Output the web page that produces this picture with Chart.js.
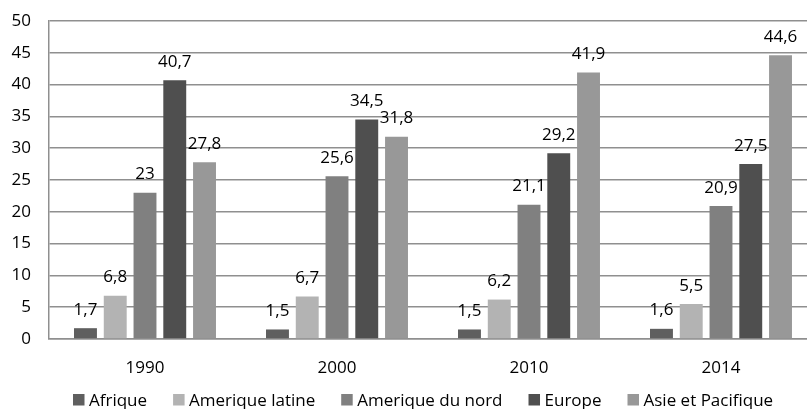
<!DOCTYPE html>
<html>
<head>
<meta charset="utf-8">
<script src="https://cdn.jsdelivr.net/npm/chart.js@4"></script>
<style>
  html, body { margin: 0; padding: 0; background: #fff; overflow: hidden; }
  #wrap { position: relative; width: 817px; height: 409px; }
</style>
</head>
<body>
<div id="wrap"><canvas id="c" width="817" height="409"></canvas></div>
<script>
const categories = ['1990', '2000', '2010', '2014'];
const seriesNames = ['Afrique', 'Amerique latine', 'Amerique du nord', 'Europe', 'Asie et Pacifique'];
const afrique = [1.7, 1.5, 1.5, 1.6];
const ameriqueLatine = [6.8, 6.7, 6.2, 5.5];
const ameriqueNord = [23, 25.6, 21.1, 20.9];
const europe = [40.7, 34.5, 29.2, 27.5];
const asiePacifique = [27.8, 31.8, 41.9, 44.6];
const yTicks = [0, 5, 10, 15, 20, 25, 30, 35, 40, 45, 50];

const seriesValues = [afrique, ameriqueLatine, ameriqueNord, europe, asiePacifique];
const seriesColors = ['#5f5f5f', '#b3b3b3', '#808080', '#4f4f4f', '#989898'];
const FONT = '"Open Sans", sans-serif';

const valueLabels = {
  id: 'valueLabels',
  afterDatasetsDraw(chart) {
    const ctx = chart.ctx;
    ctx.save();
    ctx.font = '17px ' + FONT;
    ctx.fillStyle = '#000';
    ctx.textAlign = 'center';
    ctx.textBaseline = 'alphabetic';
    chart.data.datasets.forEach((ds, i) => {
      const meta = chart.getDatasetMeta(i);
      meta.data.forEach((bar, j) => {
        ctx.fillText(String(ds.data[j]).replace('.', ','), bar.x, bar.y - 13.5);
      });
    });
    ctx.restore();
  }
};

const bottomLegend = {
  id: 'bottomLegend',
  afterDraw(chart) {
    const ctx = chart.ctx;
    ctx.save();
    ctx.font = '17px ' + FONT;
    ctx.textAlign = 'left';
    ctx.textBaseline = 'alphabetic';
    let x = chart.chartArea.left + 24;
    const baseY = 405.5;
    chart.data.datasets.forEach((ds) => {
      ctx.fillStyle = ds.backgroundColor;
      ctx.fillRect(x, 394, 11.5, 11.5);
      ctx.fillStyle = '#000';
      ctx.fillText(ds.label, x + 16, baseY);
      x += 16 + ctx.measureText(ds.label).width + 26;
    });
    ctx.restore();
  }
};

new Chart(document.getElementById('c'), {
  type: 'bar',
  data: {
    labels: categories,
    datasets: seriesNames.map((n, i) => ({
      label: n,
      data: seriesValues[i],
      backgroundColor: seriesColors[i],
      borderWidth: 0,
      categoryPercentage: 0.775,
      barPercentage: 0.77
    }))
  },
  options: {
    responsive: false,
    animation: false,
    layout: { padding: { top: 21, right: 0, bottom: 20, left: 0 } },
    plugins: {
      tooltip: { enabled: false },
      legend: { display: false }
    },
    scales: {
      x: {
        grid: { display: false, drawTicks: false },
        border: { display: true, color: '#8f8f8f', width: 1.5 },
        ticks: { color: '#000', padding: 19, font: { family: FONT, size: 17 } },
        afterFit(s) { s.height = 50; s.paddingLeft = 0; s.paddingRight = 0; }
      },
      y: {
        min: 0, max: 50,
        afterBuildTicks(s) { s.ticks = yTicks.map(v => ({ value: v })); },
        grid: { color: '#8f8f8f', lineWidth: 1.5, drawTicks: false },
        border: { display: true, color: '#8f8f8f', width: 1.5 },
        ticks: { color: '#000', padding: 18, font: { family: FONT, size: 17 } },
        afterFit(s) { s.width = 49; s.paddingTop = 0; s.paddingBottom = 0; }
      }
    }
  },
  plugins: [valueLabels, bottomLegend]
});
</script>
</body>
</html>
